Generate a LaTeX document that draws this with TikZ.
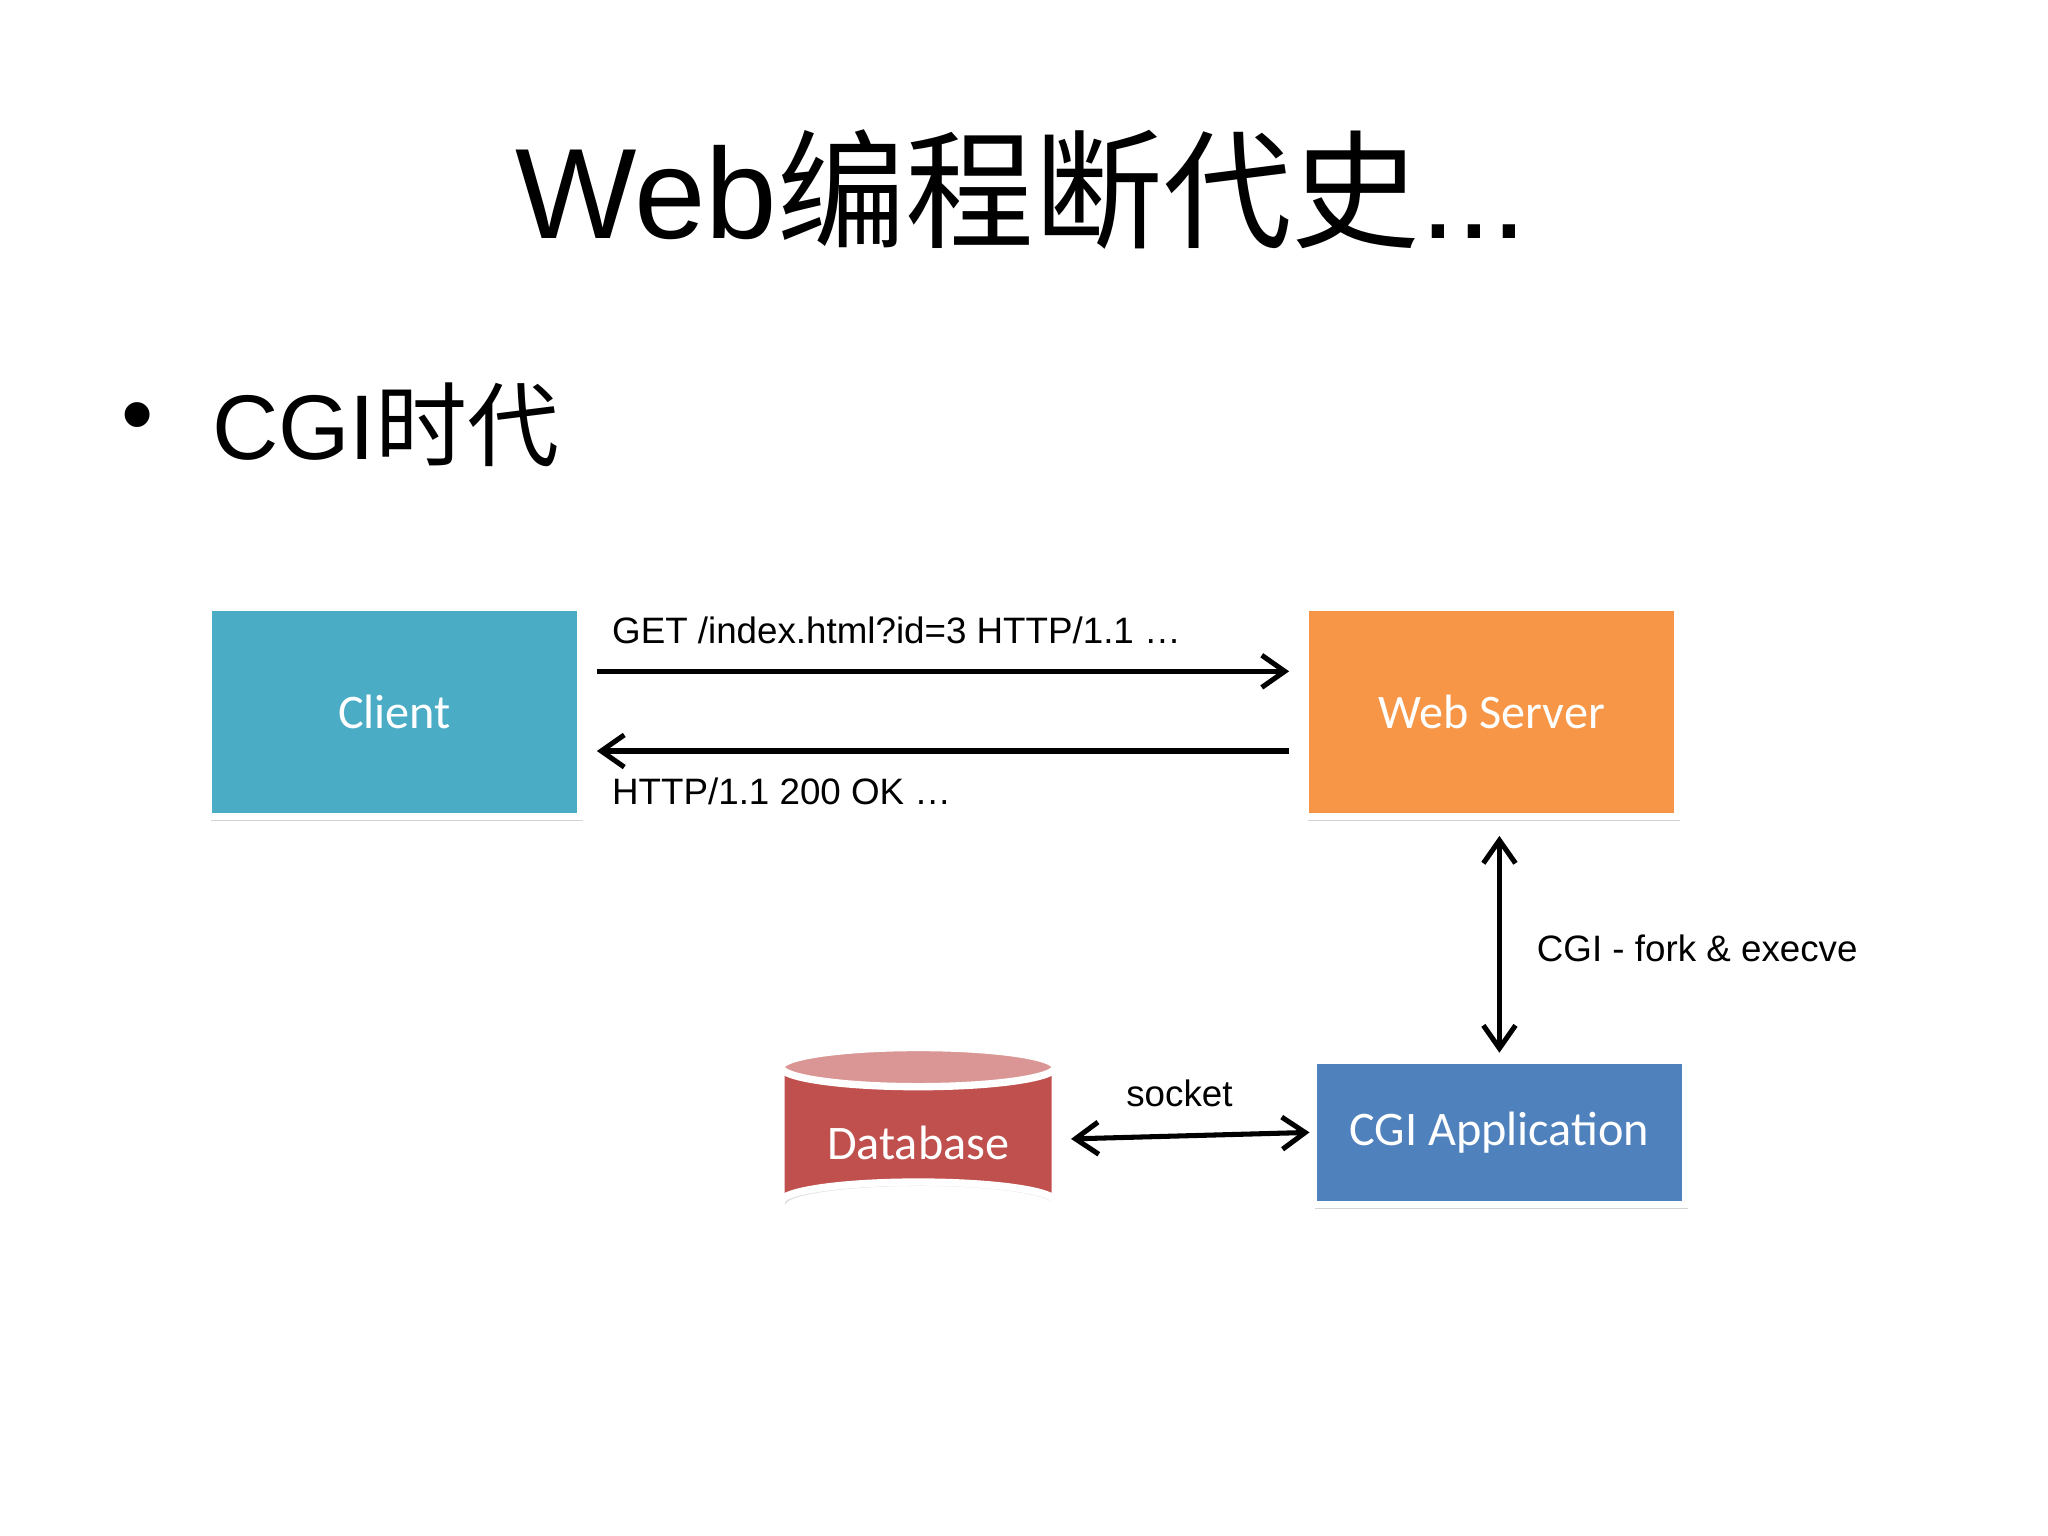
\documentclass[tikz,border=0pt]{standalone}
\usepackage{fontspec}
\setmainfont{Liberation Sans}
\newfontfamily\cjk{Noto Sans CJK SC}
\newfontfamily\carl{Carlito}
\usetikzlibrary{arrows.meta,shadows}
\definecolor{cl}{HTML}{4BACC6}
\definecolor{ws}{HTML}{F79646}
\definecolor{ca}{HTML}{4F81BD}
\definecolor{db}{HTML}{C0504D}
\definecolor{dbt}{HTML}{D99694}
\begin{document}
\begin{tikzpicture}[x=0.01cm,y=-0.01cm,
  box/.style={draw=white,line width=1.6pt,text=white,font=\carl\fontsize{10.5}{12}\selectfont,inner sep=0pt,
    drop shadow={shadow xshift=0.5pt,shadow yshift=-1pt,opacity=0.35}},
  arr/.style={line width=1.1pt,-{Straight Barb[length=5pt,width=7pt]}},
  darr/.style={line width=1.1pt,{Straight Barb[length=5pt,width=7pt]}-{Straight Barb[length=5pt,width=7pt]}},
  lbl/.style={font=\fontsize{8}{10}\selectfont,inner sep=0pt}]
\useasboundingbox (0,0) rectangle (1568,1176);
\node (title) at (782,145) {\fontsize{28}{32}\selectfont Web{\cjk 编程断代史}...};
\node (bul) at (105,325) {\fontsize{20}{24}\selectfont •};
\node[anchor=west] (sub) at (150,325) {\fontsize{20}{24}\selectfont CGI{\cjk 时代}};
\node[box,fill=cl,minimum width=2.85cm,minimum height=1.6cm] (client) at (302,545) {Client};
\node[box,fill=ws,minimum width=2.85cm,minimum height=1.6cm] (web) at (1142,545) {Web Server};
\node[box,fill=ca,minimum width=2.85cm,minimum height=1.1cm] (cgi) at (1148,867) {CGI Application};
% database cylinder
\fill[black,opacity=0.12] (601,820) -- (601,923) arc[start angle=180,end angle=360,x radius=103,y radius=15] -- (809,820) -- cycle;
\filldraw[fill=db,draw=white,line width=1.6pt] (598,817) -- (598,920) arc[start angle=180,end angle=360,x radius=105,y radius=15] -- (808,817) -- cycle;
\filldraw[fill=dbt,draw=white,line width=1.6pt] (703,817) ellipse[x radius=105,y radius=15];
\node[text=white,font=\carl\fontsize{10.5}{12}\selectfont] (dbn) at (703,875) {Database};
\coordinate (dbr) at (820,872);
\coordinate (a1) at (457,514); \coordinate (b1) at (987,514);
\coordinate (a2) at (987,575); \coordinate (b2) at (457,575);
\draw[arr] (a1) -- (b1);
\draw[arr] (a2) -- (b2);
\draw[darr] (1148,640) -- (1148,806);
\draw[darr] (dbr) -- (cgi.west);
\node[lbl,anchor=west] (l1) at (468,483) {GET /index.html?id=3 HTTP/1.1 …};
\node[lbl,anchor=west] (l2) at (468,606) {HTTP/1.1 200 OK …};
\node[lbl,anchor=west] (l3) at (1176,726) {CGI - fork \& execve};
\node[lbl] (l4) at (903,837) {socket};
\end{tikzpicture}
\end{document}
